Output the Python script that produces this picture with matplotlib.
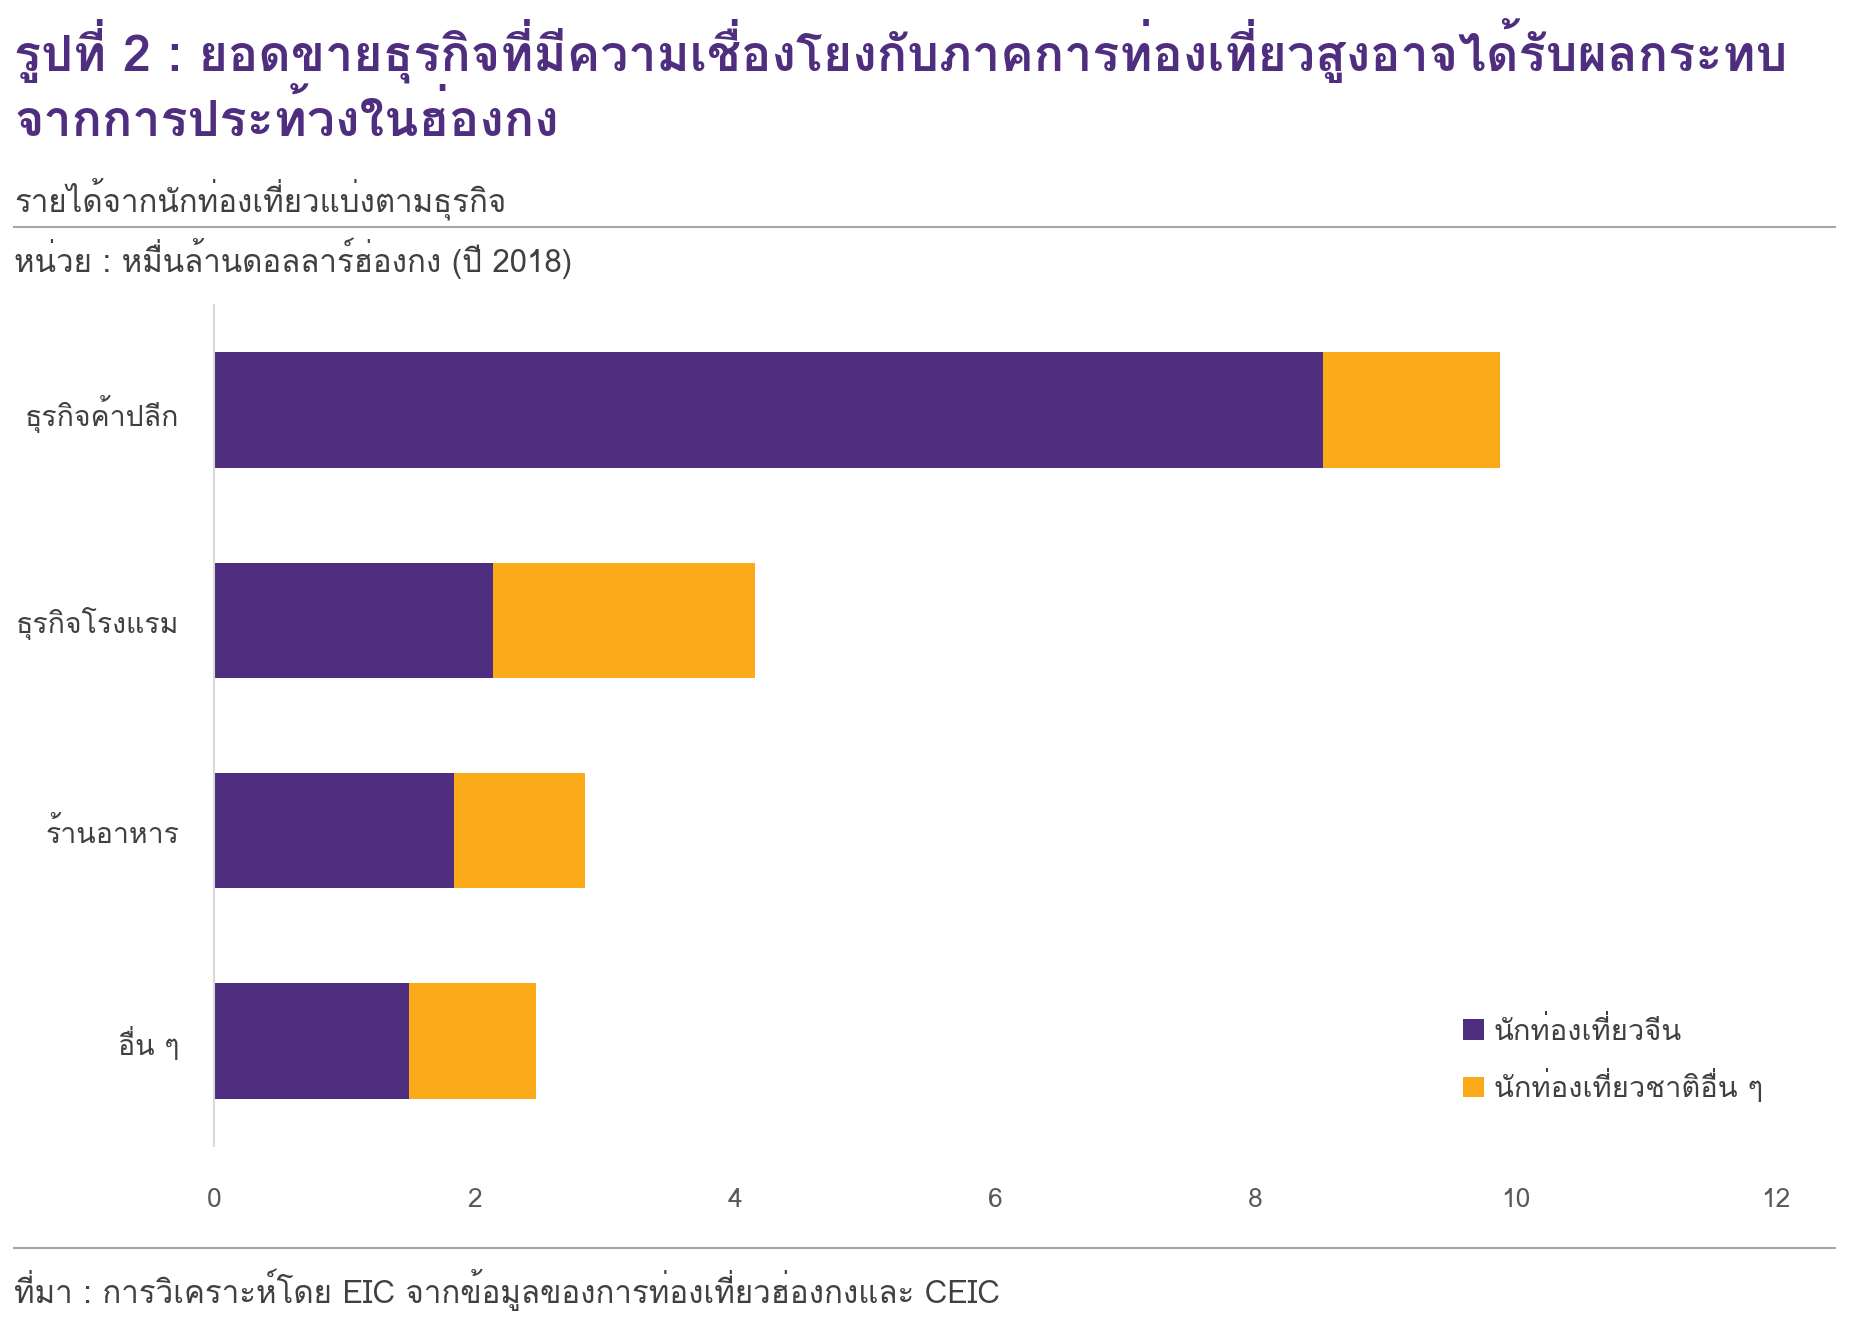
import numpy as np
import matplotlib
matplotlib.use("Agg")
import matplotlib.pyplot as plt
from matplotlib import font_manager
from fontTools.ttLib import TTFont

# find an installed family that actually has Thai glyphs
def find_thai_family():
    names = []
    for f in font_manager.fontManager.ttflist:
        try:
            cmap = TTFont(f.fname, fontNumber=0, lazy=True).getBestCmap()
        except Exception:
            continue
        if cmap and 0x0E01 in cmap and 0x0E40 in cmap:
            names.append(f.name)
    return names[0] if names else None

thai = find_thai_family()
fams = ([thai] if thai else []) + ["DejaVu Sans"]
plt.rcParams["font.family"] = fams

# data (หมื่นล้านดอลลาร์ฮ่องกง, 2018)
categories = ["ธุรกิจค้าปลีก", "ธุรกิจโรงแรม", "ร้านอาหาร", "อื่น ๆ"]
chinese = [8.52, 2.14, 1.84, 1.50]
others = [1.36, 2.02, 1.01, 0.97]
series_names = ["นักท่องเที่ยวจีน", "นักท่องเที่ยวชาติอื่น ๆ"]
xticks = [0, 2, 4, 6, 8, 10, 12]

purple = "#4F2D7F"
orange = "#FBAA19"

W, H = 1856, 1328
fig = plt.figure(figsize=(W / 100, H / 100), dpi=100)

#axes box in pixels: left 214, right 1776, top 305, bottom 1146
ax = fig.add_axes([214 / W, 1 - 1146 / H, (1776 - 214) / W, (1146 - 305) / H])

y = np.arange(len(categories))
ax.barh(y, chinese, height=0.55, color=purple, label=series_names[0])
ax.barh(y, others, left=chinese, height=0.55, color=orange, label=series_names[1])

ax.set_xlim(0, 12)
ax.set_ylim(len(categories) - 0.5, -0.5)
ax.set_xticks(xticks)
ax.set_xticklabels([str(t) for t in xticks])
ax.set_yticks(y)
ax.set_yticklabels(categories)
ax.tick_params(axis="x", length=0, labelsize=19, labelcolor="#595959", pad=30)
ax.tick_params(axis="y", length=0, labelsize=20.5, labelcolor="#404040", pad=25)
for s in ["top", "right", "bottom"]:
    ax.spines[s].set_visible(False)
ax.spines["left"].set_color("#d9d9d9")
ax.spines["left"].set_linewidth(1.5)

leg = ax.legend(loc="lower right", bbox_to_anchor=(1.0086, 0.02), frameon=False,
                fontsize=21, handlelength=0.7, handleheight=0.7, handletextpad=0.35,
                labelspacing=0.8, labelcolor="#404040")

#titles and notes
fig.text(14 / W, 1 - 50 / H, "รูปที่ 2 : ยอดขายธุรกิจที่มีความเชื่องโยงกับภาคการท่องเที่ยวสูงอาจได้รับผลกระทบ",
         fontsize=36.2, fontweight="bold", color=purple, va="center")
fig.text(14 / W, 1 - 118 / H, "จากการประท้วงในฮ่องกง",
         fontsize=36.2, fontweight="bold", color=purple, va="center")
fig.text(14 / W, 1 - 199 / H, "รายได้จากนักท่องเที่ยวแบ่งตามธุรกิจ",
         fontsize=22.5, color="#404040", va="center")
fig.text(14 / W, 1 - 258 / H, "หน่วย : หมื่นล้านดอลลาร์ฮ่องกง (ปี 2018)",
         fontsize=22.5, color="#404040", va="center")
fig.text(14 / W, 1 - 1290 / H, "ที่มา : การวิเคราะห์โดย EIC จากข้อมูลของการท่องเที่ยวฮ่องกงและ CEIC",
         fontsize=22.5, color="#404040", va="center")

for yy in [227, 1248]:
    fig.add_artist(plt.Line2D([14 / W, 1835 / W], [1 - yy / H, 1 - yy / H],
                              color="#a6a6a6", linewidth=1.5))

fig.savefig("out.png", dpi=100)
